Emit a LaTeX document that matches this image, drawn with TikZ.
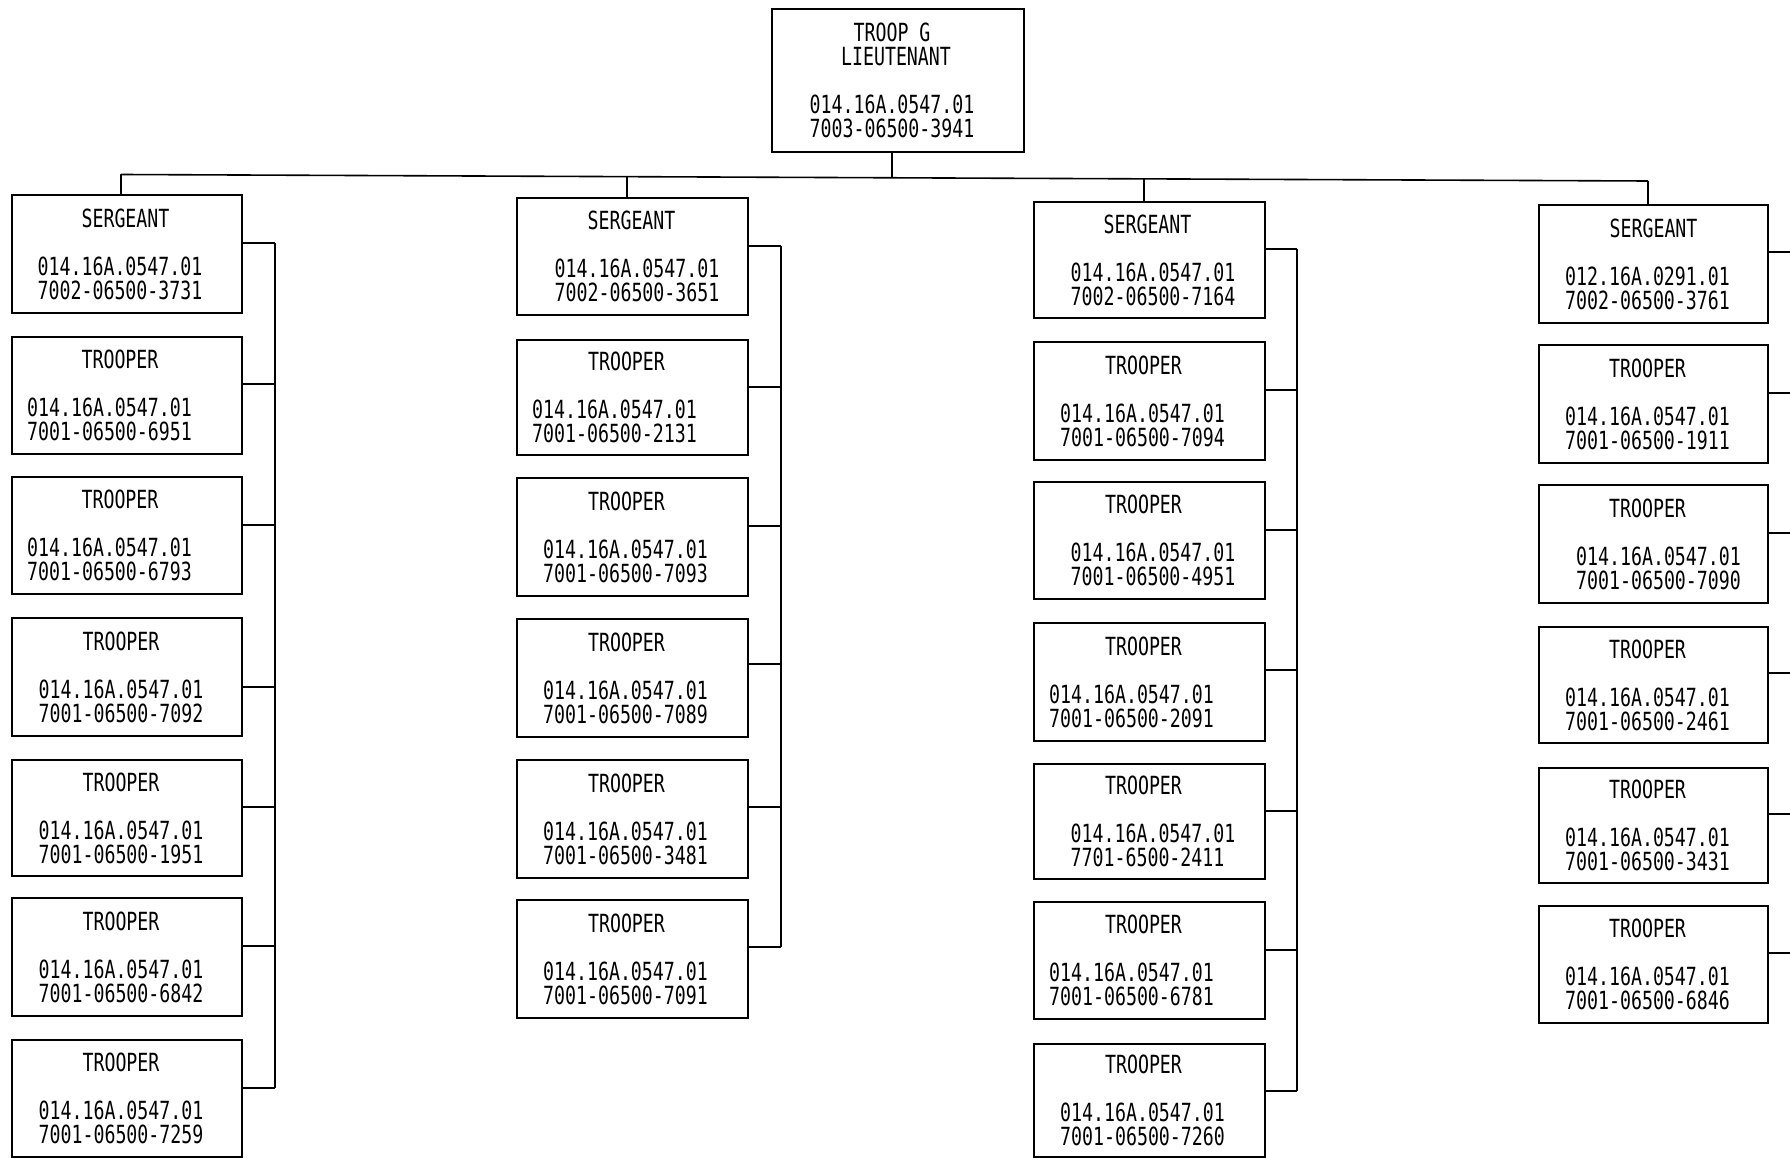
\documentclass[tikz,border=0pt]{standalone}
\usepackage{fontspec}
\newfontfamily\bxfont[FakeStretch=0.73]{DejaVu Sans Mono}
\newcommand\sh[2]{\makebox[0pt]{\hspace*{#1}#2}}
% name, xc, ytop, ybot, title shift, title, number shift, number1, number2
\newcommand\unitbox[9]{%
  \node[unit, minimum width=\cw pt, minimum height={(#4-#3)*1pt}] (#1) at (#2,{(#3+#4)/2})
  {\sh{#5}{#6}\\\mbox{}\\\sh{#7}{#8}\\\sh{#7}{#9}};}
\begin{document}
\begin{tikzpicture}[x=1pt,y=-1pt,
  unit/.style={draw, line width=1.7pt, inner sep=0pt, align=center,
    font=\bxfont\fontsize{25}{24}\selectfont},
  wire/.style={line width=1.6pt}]
\useasboundingbox (0,0) rectangle (1790,1158);
\fill[white] (0,0) rectangle (1790,1158);
\clip (0,0) rectangle (1790,1158);

% top
\def\cw{252}
\node[unit, minimum width=252pt, minimum height=143pt] (top) at (898,80.5)
  {\sh{-12pt}{TROOP G}\\\sh{-4pt}{LIEUTENANT}\\\mbox{}\\\sh{-12pt}{014.16A.0547.01}\\\sh{-12pt}{7003-06500-3941}};

% column 1
\def\cw{230}
\unitbox{c1s}{127}{195}{313}{-3pt}{SERGEANT}{-14pt}{014.16A.0547.01}{7002-06500-3731}
\unitbox{c1t1}{127}{337}{454}{-14pt}{TROOPER}{-35pt}{014.16A.0547.01}{7001-06500-6951}
\unitbox{c1t2}{127}{477}{594}{-14pt}{TROOPER}{-35pt}{014.16A.0547.01}{7001-06500-6793}
\unitbox{c1t3}{127}{618}{736}{-12pt}{TROOPER}{-12pt}{014.16A.0547.01}{7001-06500-7092}
\unitbox{c1t4}{127}{760}{876}{-12pt}{TROOPER}{-12pt}{014.16A.0547.01}{7001-06500-1951}
\unitbox{c1t5}{127}{898}{1016}{-12pt}{TROOPER}{-12pt}{014.16A.0547.01}{7001-06500-6842}
\unitbox{c1t6}{127}{1040}{1157}{-12pt}{TROOPER}{-12pt}{014.16A.0547.01}{7001-06500-7259}

% column 2
\def\cw{231}
\unitbox{c2s}{632.5}{198}{315}{-2pt}{SERGEANT}{9pt}{014.16A.0547.01}{7002-06500-3651}
\unitbox{c2t1}{632.5}{340}{455}{-12pt}{TROOPER}{-36pt}{014.16A.0547.01}{7001-06500-2131}
\unitbox{c2t2}{632.5}{478}{596}{-12pt}{TROOPER}{-14pt}{014.16A.0547.01}{7001-06500-7093}
\unitbox{c2t3}{632.5}{619}{737}{-12pt}{TROOPER}{-14pt}{014.16A.0547.01}{7001-06500-7089}
\unitbox{c2t4}{632.5}{760}{878}{-12pt}{TROOPER}{-14pt}{014.16A.0547.01}{7001-06500-3481}
\unitbox{c2t5}{632.5}{900}{1018}{-12pt}{TROOPER}{-14pt}{014.16A.0547.01}{7001-06500-7091}

% column 3
\unitbox{c3s}{1149.5}{202}{318}{-4pt}{SERGEANT}{7pt}{014.16A.0547.01}{7002-06500-7164}
\unitbox{c3t1}{1149.5}{342}{460}{-12pt}{TROOPER}{-14pt}{014.16A.0547.01}{7001-06500-7094}
\unitbox{c3t2}{1149.5}{482}{599}{-12pt}{TROOPER}{7pt}{014.16A.0547.01}{7001-06500-4951}
\unitbox{c3t3}{1149.5}{623}{741}{-12pt}{TROOPER}{-36pt}{014.16A.0547.01}{7001-06500-2091}
\unitbox{c3t4}{1149.5}{764}{879}{-12pt}{TROOPER}{7pt}{014.16A.0547.01}{7701-6500-2411\phantom{0}}
\unitbox{c3t5}{1149.5}{902}{1019}{-12pt}{TROOPER}{-36pt}{014.16A.0547.01}{7001-06500-6781}
\unitbox{c3t6}{1149.5}{1044}{1157}{-12pt}{TROOPER}{-14pt}{014.16A.0547.01}{7001-06500-7260}

% column 4
\def\cw{229}
\unitbox{c4s}{1653.5}{205}{323}{0pt}{SERGEANT}{-12pt}{012.16A.0291.01}{7002-06500-3761}
\unitbox{c4t1}{1653.5}{345}{463}{-12pt}{TROOPER}{-12pt}{014.16A.0547.01}{7001-06500-1911}
\unitbox{c4t2}{1653.5}{485}{603}{-12pt}{TROOPER}{10pt}{014.16A.0547.01}{7001-06500-7090}
\unitbox{c4t3}{1653.5}{627}{743}{-12pt}{TROOPER}{-12pt}{014.16A.0547.01}{7001-06500-2461}
\unitbox{c4t4}{1653.5}{768}{883}{-12pt}{TROOPER}{-12pt}{014.16A.0547.01}{7001-06500-3431}
\unitbox{c4t5}{1653.5}{906}{1023}{-12pt}{TROOPER}{-12pt}{014.16A.0547.01}{7001-06500-6846}

% main bus
\coordinate (j1) at (121,174.5);
\coordinate (jt) at (892,177.8);
\coordinate (j2) at (627,176.7);
\coordinate (j3) at (1144,178.9);
\coordinate (j4) at (1648,181);
\draw[wire] (j1) -- (j4);
\draw[wire] (jt) -- (jt |- top.south);
\draw[wire] (j1) -- (j1 |- c1s.north);
\draw[wire] (j2) -- (j2 |- c2s.north);
\draw[wire] (j3) -- (j3 |- c3s.north);
\draw[wire] (j4) -- (j4 |- c4s.north);

% column buses
\foreach \n/\y in {s/243,t1/384,t2/525,t3/687,t4/807,t5/946,t6/1088}{
  \coordinate (c1b\n) at (275,\y);
  \draw[wire] (c1\n.east |- c1b\n) -- (c1b\n);}
\draw[wire] (c1bs) -- (c1bt6);

\foreach \n/\y in {s/246,t1/387,t2/526,t3/664,t4/807,t5/947}{
  \coordinate (c2b\n) at (781,\y);
  \draw[wire] (c2\n.east |- c2b\n) -- (c2b\n);}
\draw[wire] (c2bs) -- (c2bt5);

\foreach \n/\y in {s/249,t1/390,t2/530,t3/670,t4/811,t5/950,t6/1091}{
  \coordinate (c3b\n) at (1297,\y);
  \draw[wire] (c3\n.east |- c3b\n) -- (c3b\n);}
\draw[wire] (c3bs) -- (c3bt6);

\foreach \n/\y in {s/252,t1/393,t2/533,t3/673,t4/814,t5/953}{
  \coordinate (c4b\n) at (1800,\y);
  \draw[wire] (c4\n.east |- c4b\n) -- (c4b\n);}
\draw[wire] (c4bs) -- (c4bt5);
\end{tikzpicture}
\end{document}
